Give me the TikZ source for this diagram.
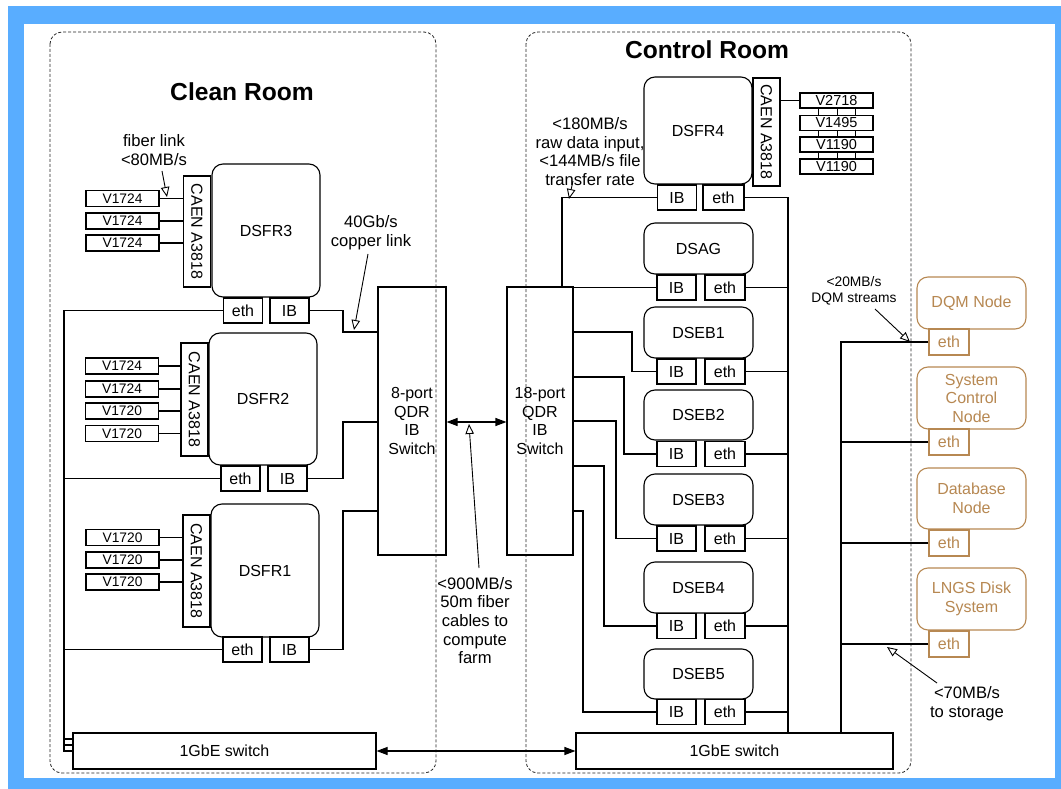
\documentclass[tikz,border=0pt]{standalone}
\usepackage{fontspec}
\setmainfont{Liberation Sans}
\usetikzlibrary{arrows.meta,calc}
\definecolor{frameblue}{RGB}{89,173,255}
\definecolor{brownish}{RGB}{183,136,82}
\tikzset{
 bx/.style 2 args={draw=black, line width=1.1pt, minimum width=#1, minimum height=#2, inner sep=0pt, font=\fontsize{16}{18.5}\selectfont},
 rbx/.style 2 args={bx={#1}{#2}, rounded corners=11pt},
 vmod/.style={bx={73pt}{16pt}, font=\fontsize{13.8}{15}\selectfont},
 vmodr/.style={bx={73pt}{15pt}, font=\fontsize{14.5}{15}\selectfont},
 caen/.style={bx={27pt}{#1}},
 port/.style={bx={39pt}{25pt}},
 brn/.style={draw=brownish, text=brownish},
 lbl/.style={align=center, font=\fontsize{16.6}{18.6}\selectfont, inner sep=0pt},
 slbl/.style={align=center, font=\fontsize{13.8}{16}\selectfont, inner sep=0pt},
 wire/.style={line width=1.1pt},
 callout/.style={line width=0.9pt, -{Triangle[open,length=10pt,width=8.5pt]}},
 bidir/.style={line width=1.1pt, {Triangle[length=11pt,width=8pt]}-{Triangle[length=11pt,width=8pt]}},
 room/.style={draw=black!85, dash pattern=on 3pt off 2pt, line width=0.8pt, rounded corners=12pt},
 roomtitle/.style={font=\bfseries\fontsize{24.6}{28}\selectfont},
}
\begin{document}
\begin{tikzpicture}[x=1pt,y=-1pt]
\useasboundingbox (0,0) rectangle (1061,789);
\fill[white] (0,0) rectangle (1061,789);
\fill[frameblue] (8,6) rectangle (1061,789);
\fill[white] (24,24) rectangle (1055,778);

% rooms
\draw[room] (50,32) rectangle (436,773);
\draw[room] (526,32) rectangle (911,773);
\node[roomtitle] (crt) at (242,92) {Clean Room};
\node[roomtitle] (ctt) at (707,50) {Control Room};

% ---------- Clean room ----------
% DSFR3
\node[rbx={108pt}{133pt}] (dsfr3) at (266,230.5) {DSFR3};
\node[caen={111pt}] (c3) at (197,231.5) {\rotatebox{-90}{CAEN A3818}};
\node[vmod] (v31) at (122.5,198.5) {V1724};
\node[vmod] (v32) at (122.5,221) {V1724};
\node[vmod] (v33) at (122.5,243) {V1724};
\node[port] (eth3) at (243,310.5) {eth};
\node[port] (ib3) at (289.5,310.5) {IB};
% DSFR2
\node[rbx={108pt}{132pt}] (dsfr2) at (263,399) {DSFR2};
\node[caen={113pt}] (c2) at (194.5,399.5) {\rotatebox{-90}{CAEN A3818}};
\node[vmod] (v21) at (122,366) {V1724};
\node[vmod] (v22) at (122,389) {V1724};
\node[vmod] (v23) at (122,411) {V1720};
\node[vmod] (v24) at (122,433.5) {V1720};
\node[port] (eth2) at (240.5,478.5) {eth};
\node[port] (ib2) at (287.5,478.5) {IB};
% DSFR1
\node[rbx={108pt}{133pt}] (dsfr1) at (265,570.5) {DSFR1};
\node[caen={112pt}] (c1) at (196.5,571) {\rotatebox{-90}{CAEN A3818}};
\node[vmod] (v11) at (122.5,537.5) {V1720};
\node[vmod] (v12) at (122.5,560) {V1720};
\node[vmod] (v13) at (122.5,582) {V1720};
\node[port] (eth1) at (242.5,649.5) {eth};
\node[port] (ib1) at (289.5,649.5) {IB};

\foreach \v/\c in {v31/c3,v32/c3,v33/c3,v21/c2,v22/c2,v23/c2,v24/c2,v11/c1,v12/c1,v13/c1}
  \draw[wire] (\v.east) -- (\v.east -| \c.west);

% switches
\node[bx={68pt}{268pt}, align=center] (sw8) at (412,421) {8-port\\QDR\\IB\\Switch};
\node[bx={66pt}{268pt}, align=center] (sw18) at (540,421) {18-port\\QDR\\IB\\Switch};
\node[bx={303pt}{36pt}] (gbe1) at (224.5,751) {1GbE switch};
\node[bx={317pt}{36pt}] (gbe2) at (734.5,751) {1GbE switch};

% clean room wiring
\draw[wire] (ib3.east) -| (343,332) -- (sw8.west |- 0,332);
\draw[wire] (ib2.east) -| (343,422) -- (sw8.west |- 0,422);
\draw[wire] (ib1.east) -| (343,511) -- (sw8.west |- 0,511);
\draw[wire] (eth3.west) -| (64,739) -- (gbe1.west |- 0,739);
\draw[wire] (eth2.west) -| (64,745) -- (gbe1.west |- 0,745);
\draw[wire] (eth1.west) -| (64,751) -- (gbe1.west);

\draw[bidir] (sw8.east |- 0,422) -- (sw18.west |- 0,422);
\draw[bidir] (gbe1.east) -- (gbe2.west);

% ---------- Control room ----------
\node[rbx={108pt}{107pt}] (dsfr4) at (698,130.5) {DSFR4};
\node[caen={108pt}] (c4) at (766.5,132) {\rotatebox{-90}{CAEN A3818}};
\node[port] (ib4) at (677,197.5) {IB};
\node[bx={41pt}{25pt}] (eth4) at (723.5,197.5) {eth};
\node[vmodr] (va) at (836.5,100.5) {V2718};
\node[vmodr] (vb) at (836.5,123) {V1495};
\node[vmodr] (vc) at (836.5,144.5) {V1190};
\node[vmodr] (vd) at (836.5,166.5) {V1190};
\draw[wire] (c4.east |- va.west) -- (va.west);
\foreach \a/\b in {va/vb,vb/vc,vc/vd}
  \foreach \dx in {-18.5,0.5,18.5}
    \draw[line width=0.9pt] ([xshift=\dx pt]\a.south) -- ([xshift=\dx pt]\b.north);

\node[rbx={109pt}{51pt}] (dsag) at (698.5,248.5) {DSAG};
\node[port] (ibA) at (676.5,287.5) {IB};
\node[bx={40pt}{25pt}] (ethA) at (725,287.5) {eth};
\node[rbx={109pt}{51pt}] (dseb1) at (698.5,332.5) {DSEB1};
\node[port] (ibE1) at (676.5,371.5) {IB};
\node[bx={40pt}{25pt}] (ethE1) at (725,371.5) {eth};
\node[rbx={109pt}{50pt}] (dseb2) at (698.5,415) {DSEB2};
\node[port] (ibE2) at (676.5,454) {IB};
\node[bx={40pt}{25pt}] (ethE2) at (725,454) {eth};
\node[rbx={109pt}{51pt}] (dseb3) at (698.5,499.5) {DSEB3};
\node[port] (ibE3) at (676.5,538.5) {IB};
\node[bx={40pt}{25pt}] (ethE3) at (725,538.5) {eth};
\node[rbx={109pt}{51pt}] (dseb4) at (698.5,587.5) {DSEB4};
\node[port] (ibE4) at (676.5,626) {IB};
\node[bx={40pt}{25pt}] (ethE4) at (725,626) {eth};
\node[rbx={109pt}{50pt}] (dseb5) at (698.5,674) {DSEB5};
\node[port] (ibE5) at (676.5,712) {IB};
\node[bx={40pt}{25pt}] (ethE5) at (725,712) {eth};

% IB wiring to 18-port switch
\draw[wire] (ib4.west) -| ([xshift=22pt]sw18.north);
\draw[wire] (ibA.west) -- (sw18.east |- ibA.west);
\draw[wire] (ibE1.west) -| (632,332) -- (sw18.east |- 0,332);
\draw[wire] (ibE2.west) -| (624,377) -- (sw18.east |- 0,377);
\draw[wire] (ibE3.west) -| (616,421) -- (sw18.east |- 0,421);
\draw[wire] (ibE4.west) -| (604,466) -- (sw18.east |- 0,466);
\draw[wire] (ibE5.west) -| (583,511) -- (sw18.east |- 0,511);

% eth wiring to 1GbE switch
\foreach \e in {eth4,ethA,ethE1,ethE2,ethE3,ethE4,ethE5}
  \draw[wire] (\e.east) -| ([xshift=53.5pt]gbe2.north);

% ---------- outside nodes ----------
\node[rbx={109pt}{52pt}, brn] (dqm) at (971.5,303) {DQM Node};
\node[port, brn, minimum width=40pt, minimum height=26pt] (ethD) at (949,342) {eth};
\node[rbx={109pt}{62pt}, brn, align=center] (sys) at (971.5,398) {System\\Control\\Node};
\node[port, brn, minimum width=40pt, minimum height=26pt] (ethS) at (949,442) {eth};
\node[rbx={109pt}{61pt}, brn, align=center] (db) at (971.5,498.5) {Database\\Node};
\node[port, brn, minimum width=40pt, minimum height=26pt] (ethB) at (949,543) {eth};
\node[rbx={109pt}{62pt}, brn, align=center] (lngs) at (971.5,599) {LNGS Disk\\System};
\node[port, brn, minimum width=40pt, minimum height=26pt] (ethL) at (949,644) {eth};
\foreach \e in {ethD,ethS,ethB,ethL}
  \draw[wire] (\e.west) -| ([xshift=106.5pt]gbe2.north);

% ---------- annotations ----------
\node[lbl] (tfiber) at (154,150) {fiber link\\<80MB/s};
\coordinate (afs) at (162,171);
\coordinate (afe) at (167,197);
\draw[callout] (afs) -- (afe);

\node[lbl] (tcopper) at (371,232.5) {40Gb/s\\copper link};
\coordinate (acs) at (368,254);
\coordinate (ace) at (354,330);
\draw[callout] (acs) -- (ace);

\node[lbl] (tfarm) at (475,620.5) {<900MB/s\\50m fiber\\cables to\\compute\\farm};
\coordinate (ams) at (479,568);
\coordinate (ame) at (469,424);
\draw[callout] (ams) -- (ame);

\node[lbl] (traw) at (590,151.5) {<180MB/s\\raw data input,\\<144MB/s file\\transfer rate};
\coordinate (ars) at (573,181);
\coordinate (are) at (569,199);
\draw[callout] (ars) -- (are);

\node[slbl] (tdqm) at (854,291) {<20MB/s\\DQM streams};
\coordinate (ads) at (875,309);
\coordinate (ade) at (910,342);
\draw[callout] (ads) -- (ade);

\node[lbl] (tstor) at (967,704) {<70MB/s\\to storage};
\coordinate (ass) at (937,683);
\coordinate (ase) at (887,647);
\draw[callout] (ass) -- (ase);
\end{tikzpicture}
\end{document}
